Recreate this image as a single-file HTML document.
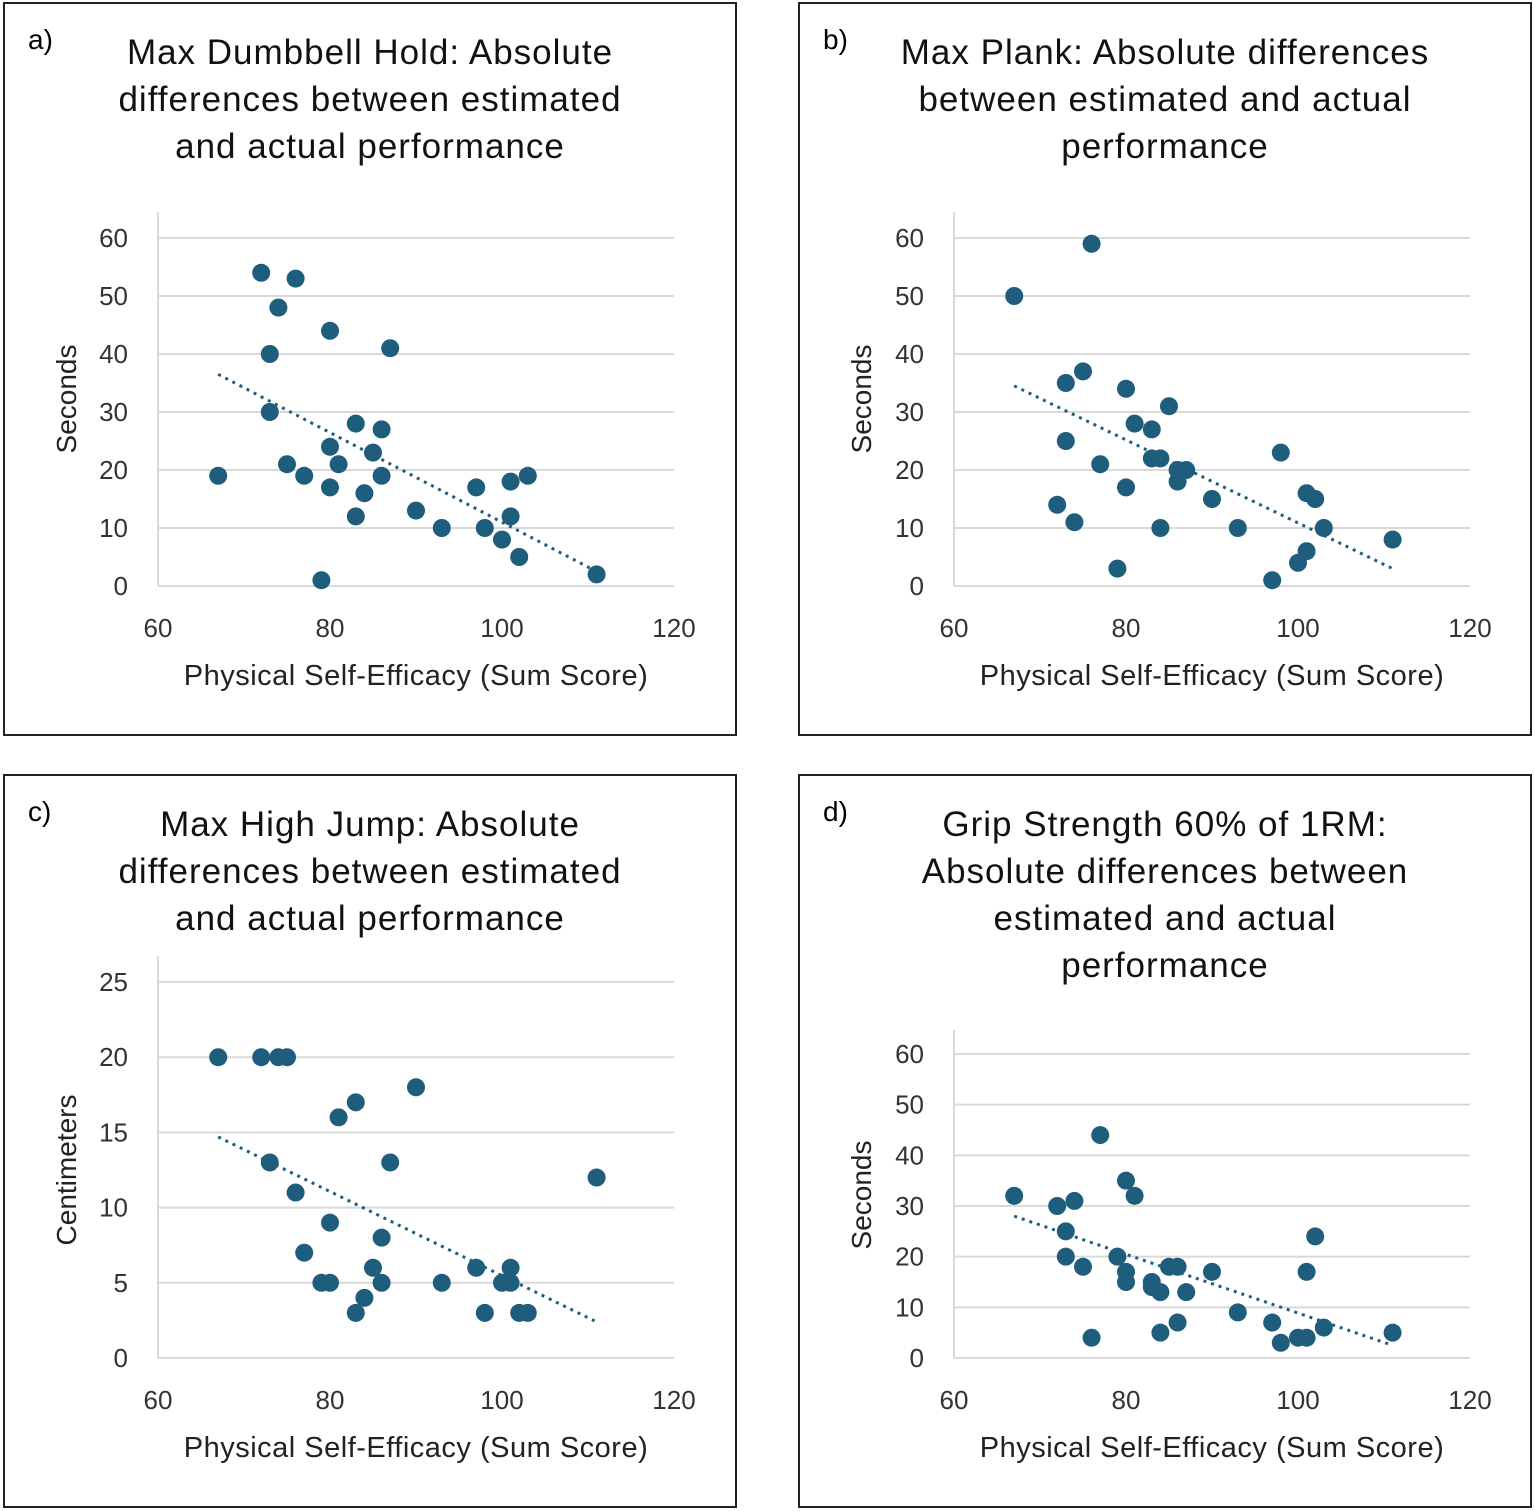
<!DOCTYPE html>
<html><head><meta charset="utf-8"><style>
html,body{margin:0;padding:0;background:#fff}
svg{display:block;font-family:"Liberation Sans",sans-serif}
</style></head><body>
<svg id="fig" width="1535" height="1511" viewBox="0 0 1535 1511" xmlns="http://www.w3.org/2000/svg"></svg>
<script>
// Panel a: Max Dumbbell Hold
const aX=[67,72,76,74,80,73,87,73,83,86,80,85,75,81,77,86,80,84,83,90,93,97,98,101,103,101,100,102,79,111];
const aY=[19,54,53,48,44,40,41,30,28,27,24,23,21,21,19,19,17,16,12,13,10,17,10,18,19,12,8,5,1,2];
const aTrend=[[67,36.5],[111,2.5]];
// Panel b: Max Plank
const bX=[67,76,73,75,80,85,81,83,73,83,84,98,77,86,87,86,80,90,101,102,72,74,84,93,103,111,101,100,79,97];
const bY=[50,59,35,37,34,31,28,27,25,22,22,23,21,20,20,18,17,15,16,15,14,11,10,10,10,8,6,4,3,1];
const bTrend=[[67,34.5],[111,3]];
// Panel c: Max High Jump
const cX=[67,72,74,75,90,83,81,73,87,111,76,80,86,77,85,97,101,79,80,86,93,100,101,84,83,98,102,103];
const cY=[20,20,20,20,18,17,16,13,13,12,11,9,8,7,6,6,6,5,5,5,5,5,5,4,3,3,3,3];
const cTrend=[[67,14.7],[111,2.4]];
// Panel d: Grip Strength
const dX=[67,72,74,73,77,80,81,73,75,79,80,80,83,83,84,85,86,87,90,76,84,86,93,97,98,100,101,101,102,103,111];
const dY=[32,30,31,25,44,35,32,20,18,20,17,15,15,14,13,18,18,13,17,4,5,7,9,7,3,4,4,17,24,6,5];
const dTrend=[[67,28],[111,2.5]];
const xTicks=[60,80,100,120];
const yTicks60=[0,10,20,30,40,50,60];
const yTicks25=[0,5,10,15,20,25];

const svg=document.getElementById('fig');
const NS='http://www.w3.org/2000/svg';
function el(tag,attrs,parent){const e=document.createElementNS(NS,tag);for(const k in attrs)e.setAttribute(k,attrs[k]);(parent||svg).appendChild(e);return e;}
function txt(s,attrs,parent){const t=el('text',attrs,parent);t.textContent=s;return t;}

const panels=[
 {id:'a',bx:4,by:3,x0:158,y0:586,yMax:60,yTop:238,axTop:212,xs:aX,ys:aY,tr:aTrend,yt:yTicks60,ylab:'Seconds',ylabY:399,title:['Max Dumbbell Hold: Absolute','differences between estimated','and actual performance'],tY:64},
 {id:'b',bx:799,by:3,x0:954,y0:586,yMax:60,yTop:238,axTop:212,xs:bX,ys:bY,tr:bTrend,yt:yTicks60,ylab:'Seconds',ylabY:399,title:['Max Plank: Absolute differences','between estimated and actual','performance'],tY:64},
 {id:'c',bx:4,by:775,x0:158,y0:1358,yMax:25,yTop:982,axTop:956,xs:cX,ys:cY,tr:cTrend,yt:yTicks25,ylab:'Centimeters',ylabY:1170,title:['Max High Jump: Absolute','differences between estimated','and actual performance'],tY:836},
 {id:'d',bx:799,by:775,x0:954,y0:1358,yMax:60,yTop:1054,axTop:1030,xs:dX,ys:dY,tr:dTrend,yt:yTicks60,ylab:'Seconds',ylabY:1195,title:['Grip Strength 60% of 1RM:','Absolute differences between','estimated and actual','performance'],tY:836}
];
panels.forEach(p=>{
 const g=el('g',{});
 
 
 const r=el('rect',{x:p.bx,y:p.by,width:732,height:732,fill:'#fff',stroke:'#222','stroke-width':2},g);
 
 
 const X=v=>p.x0+(v-60)*516/60;
 const Y=v=>p.y0-(v/p.yMax)*(p.y0-p.yTop);
 const lab=txt(p.id+')',{x:p.bx+24,y:p.by+46,'font-size':28,fill:'#000'},g);
 
 
 const cx=p.bx+366;
 p.title.forEach((line,i)=>{
  const t=txt(line,{x:cx,y:p.tY+i*47,'font-size':35,'letter-spacing':1,'text-anchor':'middle',fill:'#111'},g);
  
  
 });
 p.yt.forEach(v=>{
  if(v>0){const l=el('line',{x1:p.x0,x2:p.x0+516,y1:Y(v),y2:Y(v),stroke:'#d9d9d9','stroke-width':2},g);
  
  }
  const t=txt(String(v),{x:p.x0-30,y:Y(v)+9,'font-size':26,'text-anchor':'end',fill:'#333'},g);
  
  
 });
 const ax=el('line',{x1:p.x0,x2:p.x0,y1:p.axTop,y2:p.y0,stroke:'#d9d9d9','stroke-width':2},g);
 
 
 const bx=el('line',{x1:p.x0,x2:p.x0+516,y1:p.y0,y2:p.y0,stroke:'#d9d9d9','stroke-width':2},g);
 
 
 xTicks.forEach(v=>{
  const t=txt(String(v),{x:X(v),y:p.y0+51,'font-size':26,'text-anchor':'middle',fill:'#333'},g);
  
  
 });
 const xt=txt('Physical Self-Efficacy (Sum Score)',{x:p.x0+258,y:p.y0+99,'font-size':29,'letter-spacing':0.5,'text-anchor':'middle',fill:'#222'},g);
 
 
 const yl=txt(p.ylab,{x:0,y:0,'font-size':28,'text-anchor':'middle',fill:'#222',transform:`translate(${p.bx+72},${p.ylabY}) rotate(-90)`},g);
 
 
 const tl=el('line',{x1:X(p.tr[0][0]),y1:Y(p.tr[0][1]),x2:X(p.tr[1][0]),y2:Y(p.tr[1][1]),stroke:'#1f5d7d','stroke-width':3,'stroke-dasharray':'3 5'},g);
 
 
 p.xs.forEach((xv,i)=>{
  const c=el('circle',{cx:X(xv),cy:Y(p.ys[i]),r:9,fill:'#1f5d7d'},g);
  
  
 });
});
</script>
</body></html>
